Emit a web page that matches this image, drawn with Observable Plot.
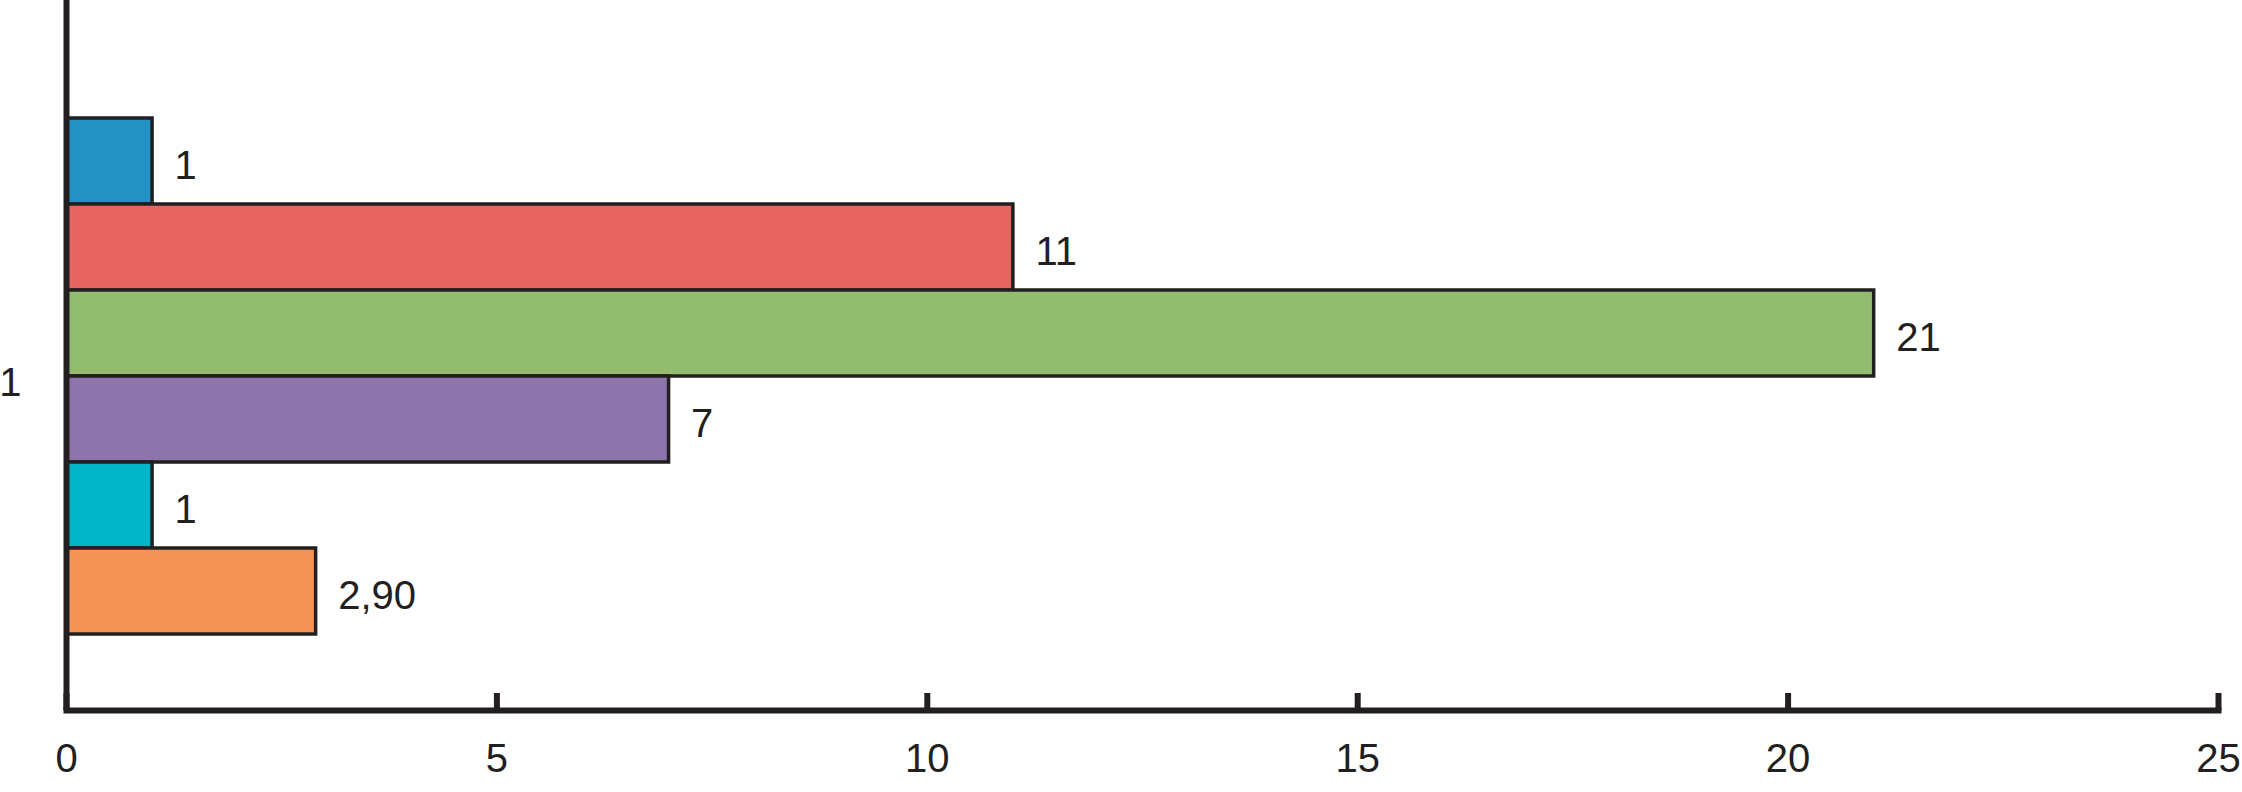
<!DOCTYPE html>
<html><head><meta charset="utf-8">
<script src="https://cdn.jsdelivr.net/npm/d3@7"></script>
<script src="https://cdn.jsdelivr.net/npm/@observablehq/plot@0.6"></script>
<style>html,body{margin:0;padding:0;background:#fff}</style></head>
<body><div id="chart"></div>
<script>
const categories = ["1"];
const series = ["S1", "S2", "S3", "S4", "S5", "S6"];
const values = [1, 11, 21, 7, 1, 2.9];
const valueLabels = ["1", "11", "21", "7", "1", "2,90"];
const colors = ["#2492C4", "#E66560", "#92BD70", "#8B75AC", "#00B5C8", "#F69457"];
const xTicks = [0, 5, 10, 15, 20, 25];

const data = series.map((s, i) => ({category: categories[0], series: s, value: values[i], label: valueLabels[i]}));
const ink = "#231F20";

const chart = Plot.plot({
  width: 2242, height: 792,
  marginLeft: 66, marginRight: 24, marginTop: 0, marginBottom: 82,
  style: {fontFamily: "'Liberation Sans', Arial, Helvetica, sans-serif", fontSize: "40px", color: ink, background: "#fff", overflow: "visible"},
  x: {domain: [0, 25], axis: null, label: null},
  y: {domain: series, padding: 0, insetTop: 118, insetBottom: 76, axis: null, label: null},
  fy: {domain: categories, padding: 0, axis: null, label: null},
  color: {domain: series, range: colors},
  marks: [
    Plot.barX(data, {x: "value", y: "series", fy: "category", fill: "series", stroke: ink, strokeWidth: 3.5}),
    Plot.text(data, {x: "value", y: "series", fy: "category", text: "label", textAnchor: "start", dx: 22, dy: 5, fill: ink, fontSize: 40}),
    Plot.tickX(xTicks, {x: d => d, insetTop: 693, stroke: ink, strokeWidth: 6}),
    Plot.ruleX([0], {stroke: ink, strokeWidth: 6}),
    Plot.frame({anchor: "bottom", stroke: ink, strokeWidth: 6, strokeLinecap: "square"}),
    Plot.axisX(xTicks, {tickSize: 0, tickPadding: 33, fontSize: 40, fill: ink, label: null, tickFormat: d => String(d)}),
    Plot.axisFy({anchor: "left", tickSize: 0, tickPadding: 45, dy: 28, fontSize: 40, fill: ink, label: null})
  ]
});
document.getElementById("chart").append(chart);
</script>
</body></html>
